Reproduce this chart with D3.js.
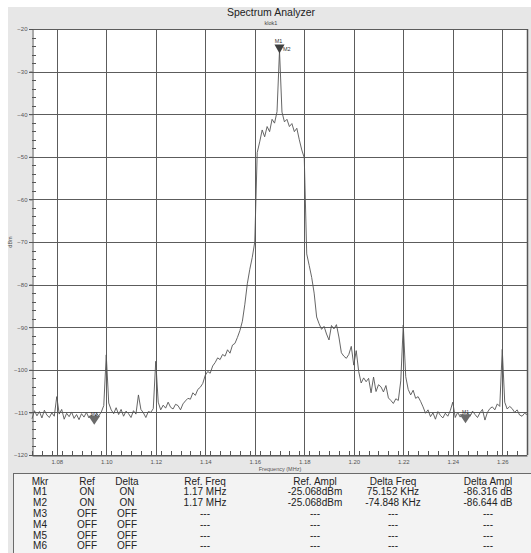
<!DOCTYPE html>
<html>
<head>
<meta charset="utf-8">
<script src="https://cdn.jsdelivr.net/npm/d3@7"></script>
<style>
  html, body { margin: 0; padding: 0; background: #ffffff; }
  svg { display: block; font-family: "Liberation Sans", Arial, sans-serif; }
</style>
</head>
<body>
<svg id="chart" width="531" height="553"></svg>
<script>
// Sweep settings of the trace: first bin and bin spacing (MHz)
const sweepStartMHz = 1.070;
const sweepStepMHz = 0.001;

// Measured trace level per bin (dBm), 1.070 .. 1.270 MHz
const traceDbm = [
  -111.5, -109.6, -110.8, -109.8, -111.3, -109.5, -110.6, -111.2, -110.1, -110.9,
  -106.3, -110.4, -109.3, -111.6, -110.2, -111.0, -109.9, -111.4, -110.5, -111.7,
  -110.3, -111.1, -110.0, -111.3, -110.6, -111.7, -110.2, -110.8, -109.9, -108.4,
  -96.5, -107.8, -109.4, -110.3, -108.9, -110.5, -109.3, -110.9, -109.7, -110.3,
  -111.2, -109.6, -110.4, -105.9, -109.3, -110.1, -111.2, -109.8, -110.0, -109.1,
  -98.0, -107.6, -109.4, -108.3, -109.0, -107.6, -108.8, -109.2, -108.1, -108.4,
  -109.4, -108.0, -107.3, -106.7, -106.9, -105.4, -106.0, -104.6, -104.1, -103.2,
  -101.3, -100.4, -100.8, -99.1, -98.3, -97.2, -97.6, -96.4, -96.8, -95.3,
  -96.1, -94.2, -93.8, -92.4, -90.8, -88.6, -84.6, -79.8, -76.4, -73.6,
  -70.0, -49.0, -46.5, -43.7, -45.3, -42.9, -44.1, -41.2, -42.1, -39.4,
  -25.068, -39.5, -41.8, -41.2, -42.9, -42.2, -44.1, -43.3, -46.0, -48.4,
  -50.2, -72.8, -75.5, -78.3, -82.0, -87.6, -89.2, -90.5, -89.8, -91.6,
  -93.0, -89.6, -90.4, -89.4, -92.3, -96.0, -96.8, -97.3, -96.4, -94.5,
  -98.9, -95.5, -100.4, -103.1, -101.9, -102.8, -102.0, -105.4, -101.7, -105.1,
  -103.5, -104.0, -105.2, -103.7, -106.6, -107.2, -107.9, -106.8, -107.2, -102.6,
  -89.5, -101.6, -104.6, -105.9, -104.8, -106.7, -106.3, -107.4, -108.7, -110.2,
  -109.4, -111.0, -110.1, -111.6, -109.8, -110.7, -111.3, -110.2, -110.9, -109.6,
  -107.6, -111.2, -110.0, -111.1, -110.4, -111.4, -110.3, -110.9, -109.7, -110.5,
  -111.2, -110.1, -109.3, -111.8, -110.0, -109.1, -108.7, -109.4, -108.0, -108.6,
  -95.2, -107.6, -109.2, -108.6, -109.1, -110.0, -109.4, -110.6, -110.9, -110.2,
  -110.5
];

// Marker table
const markerNames   = ["M1", "M2", "M3", "M4", "M5", "M6"];
const markerRef     = ["ON", "ON", "OFF", "OFF", "OFF", "OFF"];
const markerDelta   = ["ON", "ON", "OFF", "OFF", "OFF", "OFF"];
const refFreqMHz    = [1.17, 1.17, null, null, null, null];
const refAmplDbm    = [-25.068, -25.068, null, null, null, null];
const deltaFreqKHz  = [75.152, -74.848, null, null, null, null];
const deltaAmplDb   = [-86.316, -86.644, null, null, null, null];
const tableHeaders  = ["Mkr", "Ref", "Delta", "Ref. Freq", "Ref. Ampl", "Delta Freq", "Delta Ampl"];

// Axis ticks
const freqTicks = [1.08, 1.10, 1.12, 1.14, 1.16, 1.18, 1.20, 1.22, 1.24, 1.26];
const levelTicks = [-20, -30, -40, -50, -60, -70, -80, -90, -100, -110, -120];

const svg = d3.select("#chart");
const W = 531, H = 553;
const plot = { left: 32, right: 527, top: 29, bottom: 455 };

const x = d3.scaleLinear().domain([1.07, 1.27]).range([plot.left, plot.right]);
const y = d3.scaleLinear().domain([-120, -20]).range([plot.bottom, plot.top]);

// Window background
svg.append("rect").attr("x", 8).attr("y", 7).attr("width", W - 8).attr("height", H - 7)
  .attr("fill", "#e7e7e7");

// Titles
svg.append("text").attr("x", 271).attr("y", 16).attr("text-anchor", "middle")
  .attr("font-size", 10.5).attr("fill", "#222").text("Spectrum Analyzer");
svg.append("text").attr("x", 271).attr("y", 25).attr("text-anchor", "middle")
  .attr("font-size", 5.5).attr("fill", "#444").text("klok1");

// Plot area
svg.append("rect").attr("x", plot.left).attr("y", plot.top)
  .attr("width", plot.right - plot.left).attr("height", plot.bottom - plot.top)
  .attr("fill", "#ffffff");

const grid = svg.append("g").attr("stroke", "#5c5c5c").attr("stroke-width", 1).attr("shape-rendering", "crispEdges");
grid.selectAll("line.v").data(freqTicks).join("line")
  .attr("x1", d => Math.round(x(d)) + 0.5).attr("x2", d => Math.round(x(d)) + 0.5)
  .attr("y1", plot.top).attr("y2", plot.bottom);
grid.selectAll("line.h").data(levelTicks).join("line")
  .attr("x1", plot.left - 3).attr("x2", plot.right)
  .attr("y1", d => Math.round(y(d)) + 0.5).attr("y2", d => Math.round(y(d)) + 0.5);
// Right frame edge of the plot
svg.append("line").attr("x1", plot.right + 0.5).attr("x2", plot.right + 0.5)
  .attr("y1", plot.top).attr("y2", plot.bottom)
  .attr("stroke", "#555").attr("stroke-width", 1.5);

// Y axis: minor ticks inside, labels outside
const yMinor = d3.range(-120, -20, 2).filter(v => v % 10 !== 0);
const yAxis = d3.axisLeft(y).tickValues(levelTicks).tickSize(3).tickFormat(d3.format("d"));
const yg = svg.append("g").attr("transform", `translate(${plot.left + 0.5},0)`).call(yAxis);
yg.select(".domain").attr("stroke", "#555");
yg.selectAll(".tick line").attr("stroke", "#555");
yg.selectAll(".tick text").attr("font-size", 6).attr("fill", "#555").attr("x", -5)
  .attr("font-family", "Liberation Sans, Arial, sans-serif");
svg.append("g").attr("stroke", "#555").attr("shape-rendering", "crispEdges")
  .selectAll("line").data(yMinor).join("line")
  .attr("x1", plot.left).attr("x2", plot.left + 4)
  .attr("y1", d => Math.round(y(d)) + 0.5).attr("y2", d => Math.round(y(d)) + 0.5);

// X axis: minor ticks inside, labels below
const xMinor = d3.range(0, 51).map(k => 1.07 + k * 0.004).filter(f => f <= 1.2701);
const xAxis = d3.axisBottom(x).tickValues(freqTicks).tickSize(0).tickFormat(d3.format(".2f"));
const xg = svg.append("g").attr("transform", `translate(0,${plot.bottom + 0.5})`).call(xAxis);
xg.select(".domain").attr("stroke", "#555");
xg.selectAll(".tick text").attr("font-size", 6).attr("fill", "#555").attr("dy", "0.9em")
  .attr("font-family", "Liberation Sans, Arial, sans-serif");
svg.append("g").attr("stroke", "#555").attr("shape-rendering", "crispEdges")
  .selectAll("line").data(xMinor).join("line")
  .attr("x1", d => Math.round(x(d)) + 0.5).attr("x2", d => Math.round(x(d)) + 0.5)
  .attr("y1", plot.bottom).attr("y2", plot.bottom - 4);

// Axis titles
svg.append("text").attr("x", 280).attr("y", 471).attr("text-anchor", "middle")
  .attr("font-size", 5.5).attr("fill", "#555").text("Frequency (MHz)");
svg.append("text").attr("transform", "translate(12,242) rotate(-90)").attr("text-anchor", "middle")
  .attr("font-size", 5.5).attr("fill", "#555").text("dBm");

// Trace
const traceData = traceDbm.map((v, i) => ({ f: sweepStartMHz + i * sweepStepMHz, v }));
const line = d3.line().x(d => x(d.f)).y(d => y(d.v));
svg.append("path").datum(traceData).attr("d", line)
  .attr("fill", "none").attr("stroke", "#555").attr("stroke-width", 0.9);

// Markers: reference triangles at the peak, delta triangles on the floor
const active = markerNames.map((n, i) => i).filter(i => refFreqMHz[i] !== null);
const mk = svg.append("g");
active.forEach((i, k) => {
  const fx = x(refFreqMHz[i]);
  const fy = y(refAmplDbm[i]);
  if (k === 0) {
    mk.append("path").attr("d", `M${fx - 5},${fy - 6} L${fx + 5},${fy - 6} L${fx},${fy + 3} Z`)
      .attr("fill", "#3e3e3e");
  }
  const dfx = x(refFreqMHz[i] + deltaFreqKHz[i] / 1000);
  const dfy = y(refAmplDbm[i] + deltaAmplDb[i]);
  mk.append("path").attr("d", `M${dfx - 6},${dfy - 4} L${dfx + 6},${dfy - 4} L${dfx},${dfy + 5} Z`)
    .attr("fill", "#6a6a6a");
  mk.append("text").attr("x", dfx).attr("y", dfy - 4).attr("text-anchor", "middle")
    .attr("font-size", 5).attr("fill", "#333").text(markerNames[i]);
});
// Labels of the reference markers
{
  const fx = x(refFreqMHz[0]), fy = y(refAmplDbm[0]);
  mk.append("text").attr("x", fx - 1).attr("y", fy - 7.5).attr("text-anchor", "middle")
    .attr("font-size", 5.5).attr("fill", "#333").text(markerNames[0]);
  mk.append("text").attr("x", fx + 3.5).attr("y", fy).attr("text-anchor", "start")
    .attr("font-size", 5.5).attr("fill", "#333").text(markerNames[1]);
}

// Marker table
const tbl = { left: 13, top: 473 };
svg.append("rect").attr("x", tbl.left + 0.5).attr("y", tbl.top + 0.5)
  .attr("width", W - tbl.left).attr("height", H - tbl.top)
  .attr("fill", "#f3f3f3").attr("stroke", "#6a6a6a").attr("stroke-width", 1);
const colX = [40, 87, 127, 205, 315, 393, 488];
const rowY = d3.range(7).map(r => 484.5 + r * 10.8);
svg.append("g").selectAll("text").data(tableHeaders).join("text")
  .attr("x", (d, c) => colX[c]).attr("y", rowY[0]).attr("text-anchor", "middle")
  .attr("font-size", 10).attr("fill", "#222").text(d => d);
const fmtMHz = v => v === null ? "---" : `${v} MHz`;
const fmtDbm = v => v === null ? "---" : `${v.toFixed(3)}dBm`;
const fmtKHz = v => v === null ? "---" : `${v.toFixed(3)} KHz`;
const fmtDb  = v => v === null ? "---" : `${v.toFixed(3)} dB`;
markerNames.forEach((n, r) => {
  const cells = [n, markerRef[r], markerDelta[r], fmtMHz(refFreqMHz[r]), fmtDbm(refAmplDbm[r]),
                 fmtKHz(deltaFreqKHz[r]), fmtDb(deltaAmplDb[r])];
  svg.append("g").selectAll("text").data(cells).join("text")
    .attr("x", (d, c) => colX[c]).attr("y", rowY[r + 1]).attr("text-anchor", "middle")
    .attr("font-size", 10).attr("fill", "#222").text(d => d);
});
</script>
</body>
</html>
